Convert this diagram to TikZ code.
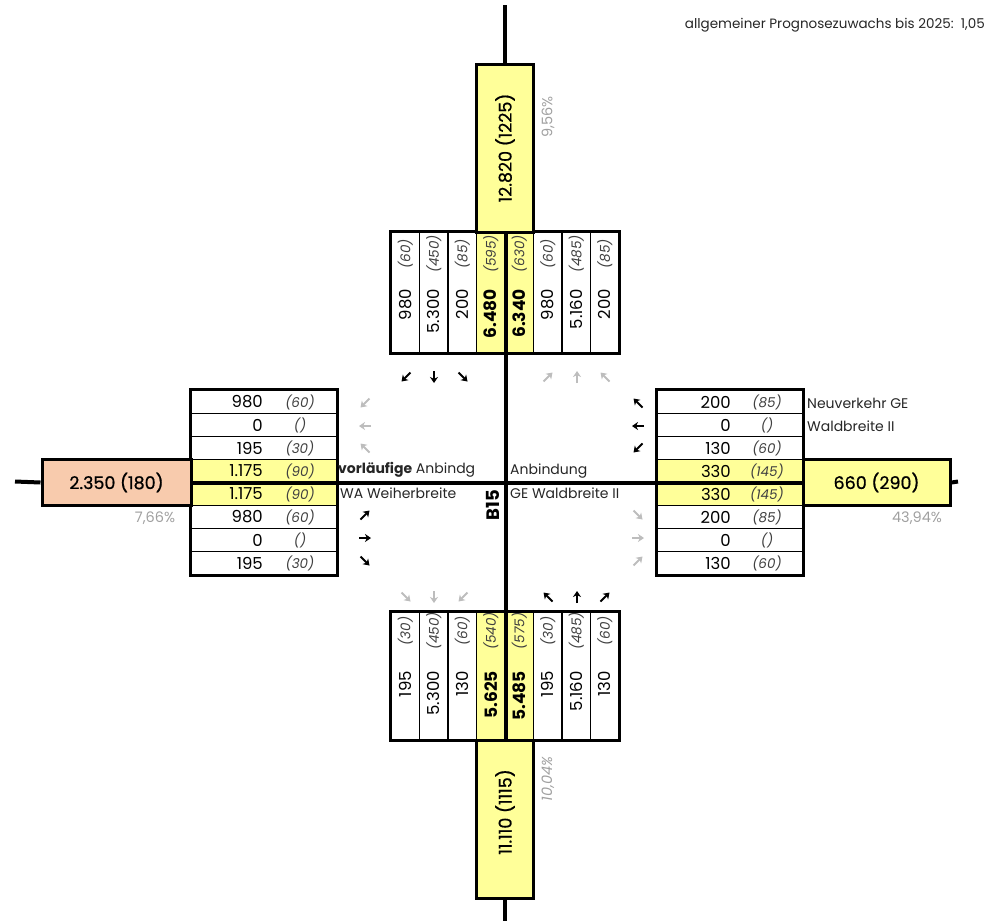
\documentclass[tikz,border=0pt]{standalone}
\usepackage{fontspec}
\setmainfont{Poppins}[Numbers=Monospaced]
\newfontfamily\medfont{Poppins}[Numbers=Monospaced, FakeBold=0.7]
\usetikzlibrary{arrows.meta}
\definecolor{lyel}{HTML}{FFFF99}
\definecolor{lora}{HTML}{F8CBAD}
\definecolor{agray}{HTML}{BDBDBD}
\definecolor{pgray}{HTML}{A0A0A0}
\begin{document}
\begin{tikzpicture}[x=1pt,y=-1pt,
  cell/.style={draw, line width=1.5pt, fill=white, inner sep=0pt},
  ycell/.style={cell, fill=lyel},
  frame/.style={draw, line width=3pt},
  bigbox/.style={draw, line width=3pt, inner sep=0pt},
  road/.style={line width=4pt},
  num/.style={font=\fontsize{16.5}{16.5}\selectfont, inner sep=0pt},
  bnum/.style={font=\fontsize{17}{17}\selectfont\bfseries, inner sep=0pt},
  par/.style={font=\fontsize{13.5}{13.5}\selectfont\itshape, text=black!75, inner sep=0pt},
  big/.style={font=\fontsize{17.5}{17.5}\selectfont\medfont, inner sep=0pt},
  pct/.style={font=\fontsize{14.5}{14.5}\selectfont, text=pgray, inner sep=0pt},
  lbl/.style={font=\fontsize{14}{14}\selectfont, text=black!85, inner sep=0pt, anchor=west},
  barr/.style={line width=1.8pt, -{Stealth[length=6pt,width=8pt]}},
  garr/.style={barr, draw=agray},
]
\useasboundingbox (0,0) rectangle (987,921);

% road end points
\coordinate (rN) at (505,5);
\coordinate (rS) at (505,921);
\coordinate (rW) at (15,481.5);
\coordinate (rE) at (958,481.5);

% ---------- top lane block ----------
\foreach \i/\n/\p/\s/\f in {1/980/60/cell/num, 2/5.300/450/cell/num, 3/200/85/cell/num,
  4/6.480/595/ycell/bnum, 5/6.340/630/ycell/bnum, 6/980/60/cell/num, 7/5.160/485/cell/num, 8/200/85/cell/num} {
  \node[\s, minimum width=28.5pt, minimum height=121pt] (t\i) at ({391+28.5*(\i-0.5)}, 292.5) {};
  \node[\f, rotate=90, anchor=east] (tn\i) at ({391+28.5*(\i-0.5)}, 289) {\n};
  \node[par, rotate=90] (tp\i) at ({391+28.5*(\i-0.5)}, 254) {(\p)};
}
\draw[frame] (t1.north west) rectangle (t8.south east);

% ---------- bottom lane block ----------
\foreach \i/\n/\p/\s/\f in {1/195/30/cell/num, 2/5.300/450/cell/num, 3/130/60/cell/num,
  4/5.625/540/ycell/bnum, 5/5.485/575/ycell/bnum, 6/195/30/cell/num, 7/5.160/485/cell/num, 8/130/60/cell/num} {
  \node[\s, minimum width=28.5pt, minimum height=128pt] (b\i) at ({391+28.5*(\i-0.5)}, 676) {};
  \node[\f, rotate=90, anchor=east] (bn\i) at ({391+28.5*(\i-0.5)}, 671) {\n};
  \node[par, rotate=90] (bp\i) at ({391+28.5*(\i-0.5)}, 631) {(\p)};
}
\draw[frame] (b1.north west) rectangle (b8.south east);

% ---------- left lane block ----------
\foreach \i/\n/\p/\s in {1/980/60/cell, 2/0//cell, 3/195/30/cell, 4/1.175/90/ycell,
  5/1.175/90/ycell, 6/980/60/cell, 7/0//cell, 8/195/30/cell} {
  \node[\s, minimum width=146pt, minimum height=23pt] (l\i) at (264, {390.5+23*(\i-0.5)}) {};
  \node[num, anchor=east] (ln\i) at (263, {390.5+23*(\i-0.5)}) {\n};
  \node[par] (lp\i) at (300, {390.5+23*(\i-0.5)}) {(\p)};
}
\draw[frame] (l1.north west) rectangle (l8.south east);

% ---------- right lane block ----------
\foreach \i/\n/\p/\s in {1/200/85/cell, 2/0//cell, 3/130/60/cell, 4/330/145/ycell,
  5/330/145/ycell, 6/200/85/cell, 7/0//cell, 8/130/60/cell} {
  \node[\s, minimum width=146pt, minimum height=23pt] (r\i) at (730, {390.5+23*(\i-0.5)}) {};
  \node[num, anchor=east] (rn\i) at (731, {390.5+23*(\i-0.5)}) {\n};
  \node[par] (rp\i) at (767, {390.5+23*(\i-0.5)}) {(\p)};
}
\draw[frame] (r1.north west) rectangle (r8.south east);

% ---------- approach boxes ----------
\node[bigbox, fill=lyel, minimum width=57pt, minimum height=168pt] (topbox) at (505,148) {};
\node[big, rotate=90] (toptxt) at (topbox.center) {12.820 (1225)};
\node[bigbox, fill=lyel, minimum width=57pt, minimum height=158pt] (botbox) at (505,819) {};
\node[big, rotate=90] (bottxt) at (505,812) {11.110 (1115)};
\node[bigbox, fill=lora, minimum width=149pt, minimum height=46pt] (lbox) at (116.5,482.5) {};
\node[big] (ltxt) at (lbox.center) {2.350 (180)};
\node[bigbox, fill=lyel, minimum width=147pt, minimum height=46pt] (rbox) at (876.5,482.5) {};
\node[big] (rtxt) at (rbox.center) {660 (290)};

% ---------- roads ----------
\draw[road] (rN) -- (topbox.north);
\draw[road] (t4.north east) -- (t4.south east);
\draw[road] (t4.south east) -- (b4.north east);
\draw[road] (b4.north east) -- (b4.south east);
\draw[road] (botbox.south) -- (rS);
\draw[road] (rW) -- (lbox.west);
\draw[road] (l4.south west) -- (l4.south east);
\draw[road] (l4.south east) -- (r4.south west);
\draw[road] (r4.south west) -- (r4.south east);
\draw[road] (rbox.east) -- (rE);

% ---------- percentages ----------
\node[pct, rotate=90] (p1) at (548,117) {9,56\%};
\node[pct, rotate=90, font=\fontsize{14.5}{14.5}\selectfont\itshape] (p2) at (548,779) {10,04\%};
\node[pct] (p3) at (155,518) {7,66\%};
\node[pct] (p4) at (917,518) {43,94\%};

% ---------- labels ----------
\node[lbl] (la1) at (338,470) {\textbf{vorläufige} Anbindg};
\node[lbl] (la2) at (340,493) {WA Weiherbreite};
\node[lbl] (la3) at (510,471) {Anbindung};
\node[lbl] (la4) at (510,493) {GE Waldbreite II};
\node[lbl] (la5) at (807,403) {Neuverkehr GE};
\node[lbl] (la6) at (807,426) {Waldbreite II};
\node[font=\fontsize{18}{18}\selectfont\bfseries, rotate=90, inner sep=0pt] (b15) at (493,505) {B15};
\node[font=\fontsize{13.5}{13.5}\selectfont, text=black!85, anchor=east, inner sep=0pt] (note) at (985,25) {allgemeiner Prognosezuwachs bis 2025:\ \ 1,05};

% ---------- turning arrows ----------
\foreach \x/\y/\dx/\dy in {406/377/-4.5/4.5, 434/377/0/6, 463/377/4.5/4.5,
  548/597/-4.5/-4.5, 577/597/0/-6, 605/597/4.5/-4.5,
  365/515/4.5/-4.5, 365/538/6/0, 365/561/4.5/4.5,
  638/403/-4.5/-4.5, 638/426/-6/0, 638/448/-4.5/4.5}
  \draw[barr] ({\x-(\dx)},{\y-(\dy)}) -- ({\x+\dx},{\y+\dy});
\foreach \x/\y/\dx/\dy in {548/377/4.5/-4.5, 577/377/0/-6, 605/377/-4.5/-4.5,
  406/597/4.5/4.5, 434/597/0/6, 463/597/-4.5/4.5,
  365/403/-4.5/4.5, 365/426/-6/0, 365/448/-4.5/-4.5,
  638/515/4.5/4.5, 638/538/6/0, 638/561/4.5/-4.5}
  \draw[garr] ({\x-(\dx)},{\y-(\dy)}) -- ({\x+\dx},{\y+\dy});
\end{tikzpicture}
\end{document}
